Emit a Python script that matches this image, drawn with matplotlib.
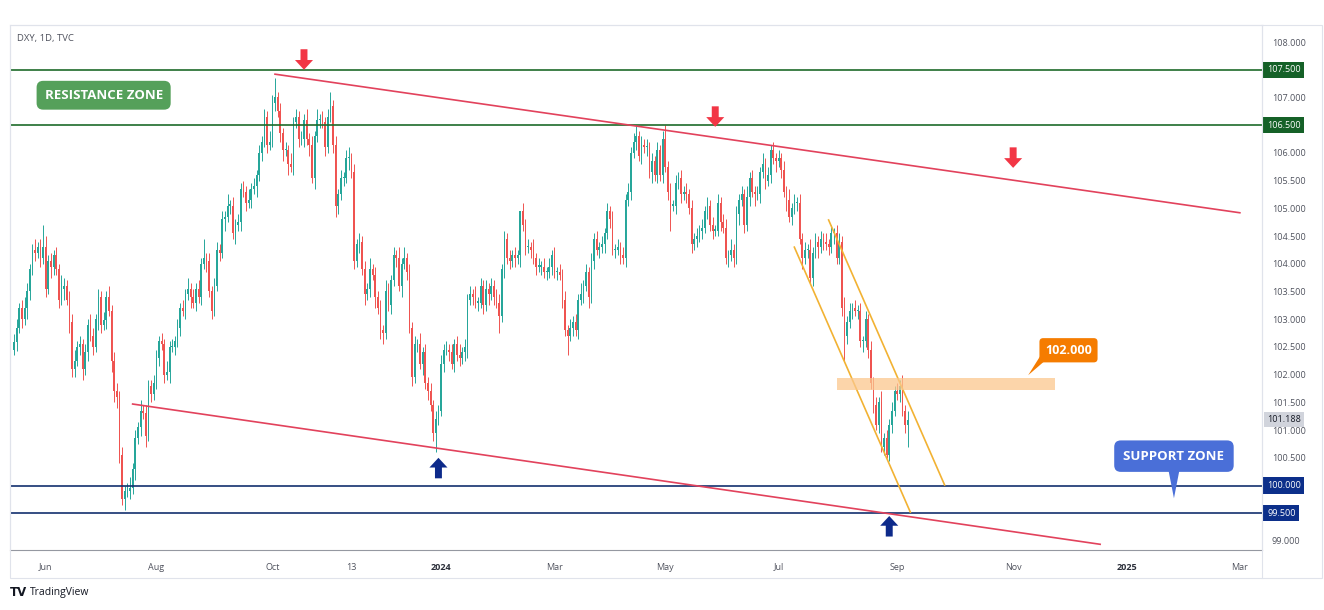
"""
DXY daily chart (TradingView style) with resistance/support zones,
descending channel and the short-term falling channel into 102.000.
"""

import numpy as np
import pandas as pd
import matplotlib
matplotlib.use("Agg")
import matplotlib.pyplot as plt
from matplotlib.patches import Rectangle, Polygon

plt.rcParams["font.family"] = ["Open Sans", "DejaVu Sans"]

# ─── trading calendar (bar index = position in this calendar) ───
HOLIDAYS = ["2023-07-04", "2023-12-25", "2024-01-01", "2024-03-29"]
calendar = pd.bdate_range("2023-05-16", "2025-04-30", freq="C", holidays=HOLIDAYS)


def bar(d):
    return int(calendar.searchsorted(pd.Timestamp(d)))


# ─── daily closes, 2023-05-16 .. 2024-09-06 ───
first_open = 102.45
closes = [
    # May 2023
    102.58, 102.85, 103.20, 103.00, 103.20, 103.50, 103.90, 104.25, 104.20, 104.30, 104.10, 104.30,
    # Jun 2023
    103.55, 104.05, 103.95, 104.15, 103.90, 103.35, 103.55, 103.60, 103.35, 102.95,
    102.10, 102.25, 102.50, 102.55, 102.10, 102.40, 102.90, 102.70, 102.50, 103.00, 103.40, 102.90,
    # Jul 2023
    102.98, 103.40, 103.15, 102.25, 101.70, 101.60, 100.55, 99.75, 99.90, 99.90,
    99.95, 100.30, 100.85, 101.05, 101.35, 101.30, 100.90, 101.80, 101.65, 101.85,
    # Aug 2023
    102.30, 102.60, 102.55, 102.00, 102.05, 102.50, 102.50, 102.60, 102.85, 103.20,
    103.15, 103.45, 103.55, 103.40, 103.30, 103.55, 103.40, 104.00, 104.10, 104.05, 103.50, 103.15, 103.60,
    # Sep 2023
    104.25, 104.20, 104.80, 104.85, 105.05, 105.05, 104.55, 104.70, 104.75, 105.35,
    105.30, 105.10, 105.15, 105.35, 105.40, 105.60, 106.00, 106.20, 106.65, 106.15, 106.20,
    # Oct 2023
    106.90, 107.00, 106.75, 106.35, 106.05, 106.05, 105.80, 105.75, 106.55, 106.65,
    106.25, 106.25, 106.60, 106.25, 106.15, 105.55, 106.30, 106.60, 106.60, 106.55, 106.10, 106.65,
    # Nov 2023
    106.85, 106.15, 105.05, 105.25, 105.55, 105.55, 105.90, 105.90, 105.65, 104.05,
    104.35, 104.40, 103.90, 103.45, 103.55, 103.90, 103.80, 103.40, 103.20, 102.80, 102.75, 103.50,
    # Dec 2023
    103.25, 103.70, 104.15, 104.10, 103.60, 104.00, 104.10, 103.85, 102.85, 101.95,
    102.55, 102.55, 102.20, 102.40, 101.85, 101.70, 101.45, 100.95, 101.20, 101.35,
    # Jan 2024
    102.20, 102.45, 102.45, 102.40, 102.20, 102.55, 102.35, 102.30, 102.40, 102.50,
    103.35, 103.45, 103.40, 103.30, 103.30, 103.60, 103.25, 103.55, 103.45, 103.60, 103.40, 103.30,
    # Feb 2024
    103.05, 103.90, 104.45, 104.10, 104.05, 104.15, 104.10, 104.15, 104.95, 104.70,
    104.30, 104.30, 104.25, 104.10, 103.95, 103.95, 103.95, 103.85, 103.85, 103.95, 104.15,
    # Mar 2024
    103.85, 103.85, 103.80, 103.35, 102.80, 102.70, 102.85, 102.95, 102.80, 103.35,
    103.45, 103.60, 103.85, 103.40, 104.05, 104.45, 104.25, 104.30, 104.35, 104.55,
    # Apr 2024
    104.95, 104.80, 104.25, 104.25, 104.30, 104.15, 104.10, 105.15, 105.30, 106.00,
    106.20, 106.30, 105.95, 106.15, 106.10, 106.10, 105.65, 105.85, 105.60, 106.05, 105.60, 106.25,
    # May 2024
    105.75, 105.30, 105.05, 105.05, 105.45, 105.55, 105.25, 105.30, 105.25, 105.00,
    104.35, 104.45, 104.50, 104.60, 104.65, 104.95, 105.05, 104.70, 104.60, 104.60, 105.10, 104.75, 104.65,
    # Jun 2024
    104.10, 104.15, 104.25, 104.10, 104.90, 105.15, 105.25, 104.70, 105.20, 105.55,
    105.30, 105.25, 105.25, 105.65, 105.80, 105.50, 105.60, 106.05, 105.90, 105.85,
    # Jul 2024
    105.90, 105.70, 105.30, 105.15, 104.85, 105.00, 105.10, 105.10, 104.45, 104.10,
    104.25, 104.25, 103.75, 104.20, 104.40, 104.30, 104.45, 104.40, 104.35, 104.30, 104.55, 104.55, 104.10,
    # Aug 2024
    104.40, 103.20, 102.70, 102.95, 103.15, 103.20, 103.15, 103.15, 102.60, 102.60,
    103.00, 102.45, 101.85, 101.45, 101.10, 101.50, 100.70, 100.85, 100.55, 101.10, 101.35, 101.70,
    # Sep 2024
    101.65, 101.80, 101.35, 101.10, 101.188,
]

# wick lengths above / below the body, one digit per bar, unit = 0.05
WICK_UP = [
    "332343224238",
    "4232325323" "3423232432" "32",
    "3242332323" "4232423223",
    "3232423232" "324232327" "2323",
    "3232423232" "3242323232" "4",
    "3723232423" "2324232423" "23",
    "5232323423" "2323242323" "24",
    "3232424232" "3242323232",
    "3232323423" "2324232323" "23",
    "3232323203" "2324232323" "2",
    "3232323232" "4232323232",
    "3232323232" "3423232323" "23",
    "5232323232" "3232323232" "323",
    "3242323242" "3232423232",
    "3232423232" "3242323232" "323",
    "3242323232" "3232324232" "32",
    "32423",
]
WICK_DN = [
    "232324323232",
    "3243232424" "3323423232" "43",
    "2324443242" "3242324232",
    "2323242323" "232423232" "4232",
    "2324232423" "2323242323" "2",
    "2323424232" "3232424232" "32",
    "2343232423" "2324232423" "42",
    "2323242323" "2324232372",
    "2323232323" "4232323242" "32",
    "6232323242" "3232323232" "3",
    "2323272323" "2324232323",
    "2323232323" "2323232423" "23",
    "2392323232" "3232323232" "232",
    "2323242323" "2423232324",
    "2324232324" "2323242323" "242",
    "2393232324" "2323232312" "32",
    "23238",
]

# ─── drawings ───
resistance_levels = [107.5, 106.5]
support_levels = [100.0, 99.5]
upper_trend = [("2023-10-03", 107.42), ("2025-03-03", 104.92)]
lower_trend = [("2023-07-19", 101.47), ("2024-12-18", 98.94)]
channel_a = [("2024-07-09", 104.30), ("2024-09-09", 99.52)]
channel_b = [("2024-07-26", 104.79), ("2024-09-26", 100.01)]
zone_102 = ("2024-07-31", "2024-11-25", 101.72, 101.94)
down_arrows = [("2023-10-18", 107.50, 107.87), ("2024-05-28", 106.47, 106.84),
               ("2024-11-01", 105.73, 106.10)]
up_arrows = [("2023-12-29", 100.50, 100.13), ("2024-08-28", 99.45, 99.08)]

time_ticks = ["2023-06-01", "2023-08-01", "2023-10-02", "2023-11-13", "2024-01-02",
              "2024-03-01", "2024-05-01", "2024-07-01", "2024-09-02", "2024-11-01",
              "2025-01-01", "2025-03-03"]
time_labels = ["Jun", "Aug", "Oct", "13", "2024", "Mar", "May", "Jul", "Sep", "Nov", "2025", "Mar"]
price_ticks = np.arange(99.0, 108.01, 0.5)

UP_COL = "#26a69a"
DN_COL = "#ef5350"
RED_LINE = "#e2425c"
ORANGE = "#f2b233"
GREEN = "#1e6b2a"
NAVY = "#13306e"
AXIS_TXT = "#50535e"

# ─── candles ───
c = np.array(closes)
o = np.array([first_open] + closes[:-1])
up = np.array([int(ch) for ch in "".join(WICK_UP)]) * 0.05
dn = np.array([int(ch) for ch in "".join(WICK_DN)]) * 0.05
x = np.arange(len(c))
hi = np.maximum(o, c) + up
lo = np.minimum(o, c) - dn
col = np.where(c >= o, UP_COL, DN_COL)

W, H = 1324, 610
fig = plt.figure(figsize=(W / 100, H / 100), dpi=100)
fig.patch.set_facecolor("white")
ax = fig.add_axes([10 / W, 1 - 550 / H, 1252 / W, 525 / H])
ax.set_facecolor("white")

ax.vlines(x, lo, hi, colors=col, linewidth=0.7, zorder=2)
ax.bar(x, np.maximum(np.abs(c - o), 0.02), bottom=np.minimum(o, c), width=0.62,
       color=col, linewidth=0, zorder=2)

# horizontal zones
for lvl in resistance_levels:
    ax.axhline(lvl, color=GREEN, lw=1.2, zorder=3)
for lvl in support_levels:
    ax.axhline(lvl, color=NAVY, lw=1.2, zorder=3)

# trend lines
for pts, colr in [(upper_trend, RED_LINE), (lower_trend, RED_LINE),
                  (channel_a, ORANGE), (channel_b, ORANGE)]:
    ax.plot([bar(d) for d, _ in pts], [p for _, p in pts], color=colr, lw=1.2, zorder=4)

# 102 zone band
b0, b1 = bar(zone_102[0]), bar(zone_102[1])
ax.add_patch(Rectangle((b0, zone_102[2]), b1 - b0, zone_102[3] - zone_102[2],
                       facecolor="#fbc88e", alpha=0.75, edgecolor="none", zorder=5))

# arrows
arrow_style = "simple,head_length=0.7,head_width=1.3,tail_width=0.5"
for d, tip, tail in down_arrows:
    ax.annotate("", xy=(bar(d), tip), xytext=(bar(d), tail),
                arrowprops=dict(arrowstyle=arrow_style, fc="#f23645", ec="none",
                                shrinkA=0, shrinkB=0, mutation_scale=10),
                zorder=6)
for d, tip, tail in up_arrows:
    ax.annotate("", xy=(bar(d), tip), xytext=(bar(d), tail),
                arrowprops=dict(arrowstyle=arrow_style, fc="#0d2a8a", ec="none",
                                shrinkA=0, shrinkB=0, mutation_scale=10),
                zorder=6)

# callout boxes
ax.text(bar("2023-07-03"), 107.04, "RESISTANCE ZONE", ha="center", va="center",
        fontsize=9.5, fontweight="bold", color="white", zorder=7,
        bbox=dict(boxstyle="round,pad=0.6,rounding_size=0.5", fc="#55a05a", ec="none"))

sb = bar("2025-01-27")
ax.add_patch(Polygon([(sb - 2.3, 100.33), (sb + 2.3, 100.33), (sb, 99.77)],
                     closed=True, fc="#4a6fd8", ec="none", zorder=6))
ax.text(sb, 100.53, "SUPPORT ZONE", ha="center", va="center",
        fontsize=9.5, fontweight="bold", color="white", zorder=7,
        bbox=dict(boxstyle="round,pad=0.7,rounding_size=0.5", fc="#4a6fd8", ec="none"))

ob = bar("2024-12-02")
ax.add_patch(Polygon([(ob - 10.8, 102.33), (ob - 7.0, 102.33), (ob - 15.3, 101.99)],
                     closed=True, fc="#f57c00", ec="none", zorder=6))
ax.text(ob, 102.44, "102.000", ha="center", va="center",
        fontsize=9, fontweight="bold", color="white", zorder=7,
        bbox=dict(boxstyle="round,pad=0.45,rounding_size=0.3", fc="#f57c00", ec="none"))

# ─── axes ───
badge_levels = resistance_levels + support_levels
ax.set_xlim(-1.52, 473.4)
ax.set_ylim(98.837, 108.307)
ax.yaxis.tick_right()
ax.set_yticks(price_ticks)
ax.set_yticklabels(["" if any(abs(p - b) < 1e-6 for b in badge_levels) else f"{p:.3f}"
                    for p in price_ticks])
ax.tick_params(axis="y", length=0, pad=7, labelsize=6.5, labelcolor=AXIS_TXT)
ax.set_xticks([bar(d) for d in time_ticks])
ax.set_xticklabels(time_labels)
ax.tick_params(axis="x", length=0, pad=9, labelsize=6.5, labelcolor=AXIS_TXT)
for lbl in ax.get_xticklabels():
    if lbl.get_text() in ("2024", "2025"):
        lbl.set_fontweight("bold")
        lbl.set_color("#2a2e39")
for side in ("top", "left", "right"):
    ax.spines[side].set_color("#e0e3eb")
    ax.spines[side].set_linewidth(0.8)
ax.spines["bottom"].set_color("#9598a1")
ax.spines["bottom"].set_linewidth(0.8)

# price-scale badges
ytr = ax.get_yaxis_transform()
for lvl in resistance_levels:
    ax.text(1.0 + 5 / 1252, lvl, f"{lvl:.3f}", transform=ytr, ha="left", va="center",
            fontsize=6.5, color="white", zorder=8, clip_on=False,
            bbox=dict(boxstyle="square,pad=0.4", fc="#156128", ec="none"))
for lvl in support_levels:
    ax.text(1.0 + 5 / 1252, lvl, f"{lvl:.3f}", transform=ytr, ha="left", va="center",
            fontsize=6.5, color="white", zorder=8, clip_on=False,
            bbox=dict(boxstyle="square,pad=0.4", fc="#0c2f8a", ec="none"))
ax.text(1.0 + 5 / 1252, closes[-1], f"{closes[-1]:.3f}", transform=ytr, ha="left",
        va="center", fontsize=6.5, color="#131722", zorder=8, clip_on=False,
        bbox=dict(boxstyle="square,pad=0.3", fc="#d1d4dc", ec="none"))

# outer frame and separators
fig.add_artist(Rectangle((10 / W, 1 - 578 / H), 1312 / W, 553 / H, transform=fig.transFigure,
                         fill=False, edgecolor="#e0e3eb", lw=0.8))
fig.add_artist(plt.Line2D([1262 / W, 1262 / W], [1 - 578 / H, 1 - 25 / H],
                          transform=fig.transFigure, color="#e0e3eb", lw=0.8))

fig.text(17 / W, 1 - 39 / H, "DXY, 1D, TVC", fontsize=6.8, color=AXIS_TXT, va="center")
fig.text(10 / W, 1 - 593 / H, "TV", fontsize=8.5, fontweight="heavy", color="#131722",
         va="center", family="DejaVu Sans")
fig.text(30 / W, 1 - 593 / H, "TradingView", fontsize=7.5, color="#131722", va="center")

fig.savefig("out.png", dpi=100, facecolor="white")
